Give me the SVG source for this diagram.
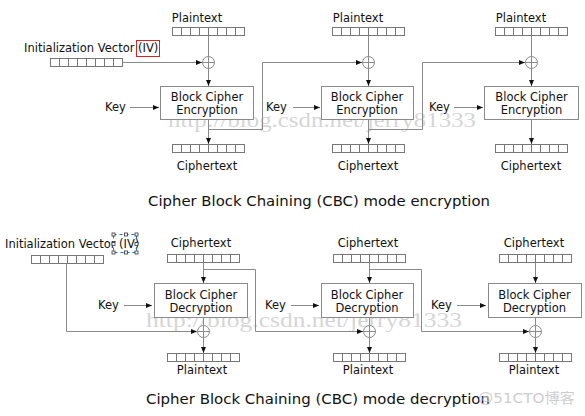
<svg xmlns="http://www.w3.org/2000/svg" width="585" height="416" viewBox="0 0 585 416">
<style>
.t{font-family:"DejaVu Sans","Liberation Sans",sans-serif;font-size:11.5px;fill:#111}
.m{text-anchor:middle}
.ttl{font-family:"DejaVu Sans","Liberation Sans",sans-serif;font-size:14.5px;fill:#111;text-anchor:middle}
.ln{fill:none;stroke:#8a8a8a;stroke-width:1}
.bx{fill:#fff;stroke:#8a8a8a;stroke-width:1}
.reg{fill:#fff;stroke:#777;stroke-width:1}
.x{fill:#fff;stroke:#8a8a8a;stroke-width:1}
.wm{font-family:"Liberation Serif","DejaVu Serif",serif;font-size:20px;fill:#c8c8c8;fill-opacity:0.75}
</style>
<defs>
<marker id="ah" viewBox="0 0 6 6" refX="6" refY="3" markerWidth="6" markerHeight="6" markerUnits="userSpaceOnUse" orient="auto">
<path d="M0,0.5 L6,3 L0,5.5 Z" fill="#111"/>
</marker>
<g id="reg">
<rect class="reg" x="0.5" y="0.5" width="72" height="8"/>
<path class="reg" d="M9.5,0.5V8.5M18.5,0.5V8.5M27.5,0.5V8.5M36.5,0.5V8.5M45.5,0.5V8.5M54.5,0.5V8.5M63.5,0.5V8.5"/>
</g>
<g id="xor">
<circle class="x" cx="0" cy="0" r="6"/>
<path class="x" d="M-6,0H6M0,-6V6"/>
</g>
</defs>

<!-- watermarks -->
<text class="wm" x="168" y="127" textLength="308" lengthAdjust="spacingAndGlyphs">http://blog.csdn.net/jerry81333</text>
<text class="wm" x="146" y="327" textLength="316" lengthAdjust="spacingAndGlyphs">http://blog.csdn.net/jerry81333</text>

<g id="connectors">
<!-- encryption -->
<path class="ln" d="M208.5,36V56"/>
<path class="ln" d="M368.5,36V56"/>
<path class="ln" d="M531.5,36V56"/>
<path class="ln" d="M123,62.5H202" marker-end="url(#ah)"/>
<path class="ln" d="M208.5,68V86" marker-end="url(#ah)"/>
<path class="ln" d="M368.5,68V86" marker-end="url(#ah)"/>
<path class="ln" d="M531.5,68V86" marker-end="url(#ah)"/>
<path class="ln" d="M208.5,119V144" marker-end="url(#ah)"/>
<path class="ln" d="M368.5,119V144" marker-end="url(#ah)"/>
<path class="ln" d="M531.5,119V144" marker-end="url(#ah)"/>
<path class="ln" d="M208.5,129.5H262.5V62.5H362" marker-end="url(#ah)"/>
<path class="ln" d="M368.5,129.5H422.5V62.5H525" marker-end="url(#ah)"/>
<path class="ln" d="M130,107.5H159" marker-end="url(#ah)"/>
<path class="ln" d="M293,107.5H320" marker-end="url(#ah)"/>
<path class="ln" d="M454,107.5H483" marker-end="url(#ah)"/>
<!-- decryption -->
<path class="ln" d="M203.5,263V283" marker-end="url(#ah)"/>
<path class="ln" d="M369.5,263V283" marker-end="url(#ah)"/>
<path class="ln" d="M535.5,263V283" marker-end="url(#ah)"/>
<path class="ln" d="M203.5,269.5H255.5V331.5H363" marker-end="url(#ah)"/>
<path class="ln" d="M369.5,269.5H421.5V331.5H529" marker-end="url(#ah)"/>
<path class="ln" d="M66.5,264V331.5H197" marker-end="url(#ah)"/>
<path class="ln" d="M203.5,318V325M369.5,318V325M535.5,318V325"/>
<path class="ln" d="M203.5,337V353" marker-end="url(#ah)"/>
<path class="ln" d="M369.5,337V353" marker-end="url(#ah)"/>
<path class="ln" d="M535.5,337V353" marker-end="url(#ah)"/>
<path class="ln" d="M124,305.5H152" marker-end="url(#ah)"/>
<path class="ln" d="M291,305.5H319" marker-end="url(#ah)"/>
<path class="ln" d="M457,305.5H486" marker-end="url(#ah)"/>
</g>

<!-- ENCRYPTION -->
<g id="iv-enc">
<text class="t" x="24" y="52">Initialization Vector (IV)</text>
<rect x="136.5" y="40.5" width="23" height="16" fill="none" stroke="#e02020" stroke-width="1"/>
<use href="#reg" x="50" y="58"/>
</g>

<g id="enc1">
<text class="t m" x="197" y="22">Plaintext</text>
<use href="#reg" x="172" y="27"/>
<use href="#xor" x="208.5" y="62.5"/>
<text class="t" x="105" y="111">Key</text>
<rect class="bx" x="160.5" y="86.5" width="93" height="33"/>
<text class="t m" x="207" y="101">Block Cipher</text>
<text class="t m" x="207" y="114">Encryption</text>
<use href="#reg" x="172" y="144"/>
<text class="t m" x="207" y="170">Ciphertext</text>
</g>

<g id="enc2">
<text class="t m" x="358" y="22">Plaintext</text>
<use href="#reg" x="332" y="27"/>
<use href="#xor" x="368.5" y="62.5"/>
<text class="t" x="266" y="111">Key</text>
<rect class="bx" x="321.5" y="86.5" width="92" height="33"/>
<text class="t m" x="367" y="101">Block Cipher</text>
<text class="t m" x="367" y="114">Encryption</text>
<use href="#reg" x="332" y="144"/>
<text class="t m" x="368" y="170">Ciphertext</text>
</g>

<g id="enc3">
<text class="t m" x="521" y="22">Plaintext</text>
<use href="#reg" x="495" y="27"/>
<use href="#xor" x="531.5" y="62.5"/>
<text class="t" x="429" y="111">Key</text>
<rect class="bx" x="484.5" y="86.5" width="94" height="33"/>
<text class="t m" x="531.5" y="101">Block Cipher</text>
<text class="t m" x="531.5" y="114">Encryption</text>
<use href="#reg" x="495" y="144"/>
<text class="t m" x="531" y="170">Ciphertext</text>
</g>

<text class="ttl" x="319" y="206" textLength="342" lengthAdjust="spacingAndGlyphs">Cipher Block Chaining (CBC) mode encryption</text>

<!-- DECRYPTION -->
<g id="iv-dec">
<text class="t" x="5" y="248">Initialization Vector (IV)</text>
<path d="M113.5,234.5H136.5V252.5H113.5Z" fill="none" stroke="#1a6fd0" stroke-width="1" stroke-dasharray="3,3"/>
<g fill="#fff" stroke="#333" stroke-width="0.8">
<rect x="112" y="233" width="3" height="3"/>
<rect x="124.5" y="233" width="3" height="3"/>
<rect x="135" y="233" width="3" height="3"/>
<rect x="112" y="242.5" width="3" height="3"/>
<rect x="135" y="242.5" width="3" height="3"/>
<rect x="112" y="251" width="3" height="3"/>
<rect x="124.5" y="251" width="3" height="3"/>
<rect x="135" y="251" width="3" height="3"/>
</g>
<use href="#reg" x="31" y="255"/>
</g>

<g id="dec1">
<text class="t m" x="201" y="247">Ciphertext</text>
<use href="#reg" x="167" y="254"/>
<text class="t" x="98" y="309">Key</text>
<rect class="bx" x="154.5" y="283.5" width="93" height="34"/>
<text class="t m" x="201" y="299">Block Cipher</text>
<text class="t m" x="201" y="312">Decryption</text>
<use href="#xor" x="203.5" y="331.5"/>
<use href="#reg" x="167" y="353"/>
<text class="t m" x="202" y="374">Plaintext</text>
</g>

<g id="dec2">
<text class="t m" x="368" y="247">Ciphertext</text>
<use href="#reg" x="333" y="254"/>
<text class="t" x="265" y="309">Key</text>
<rect class="bx" x="321.5" y="283.5" width="92" height="34"/>
<text class="t m" x="367" y="299">Block Cipher</text>
<text class="t m" x="367" y="312">Decryption</text>
<use href="#xor" x="369.5" y="331.5"/>
<use href="#reg" x="333" y="353"/>
<text class="t m" x="368" y="374">Plaintext</text>
</g>

<g id="dec3">
<text class="t m" x="534" y="247">Ciphertext</text>
<use href="#reg" x="499" y="254"/>
<text class="t" x="431" y="309">Key</text>
<rect class="bx" x="488.5" y="283.5" width="93" height="34"/>
<text class="t m" x="534.5" y="299">Block Cipher</text>
<text class="t m" x="534.5" y="312">Decryption</text>
<use href="#xor" x="535.5" y="331.5"/>
<use href="#reg" x="499" y="353"/>
<text class="t m" x="534" y="374">Plaintext</text>
</g>

<text class="ttl" x="318" y="404" textLength="344" lengthAdjust="spacingAndGlyphs">Cipher Block Chaining (CBC) mode decryption</text>
<text x="478" y="403" font-family="'DejaVu Sans','Noto Sans CJK SC',sans-serif" font-size="14" fill="#c4c4c4" fill-opacity="0.85" textLength="97" lengthAdjust="spacingAndGlyphs">@51CTO博客</text>
</svg>
